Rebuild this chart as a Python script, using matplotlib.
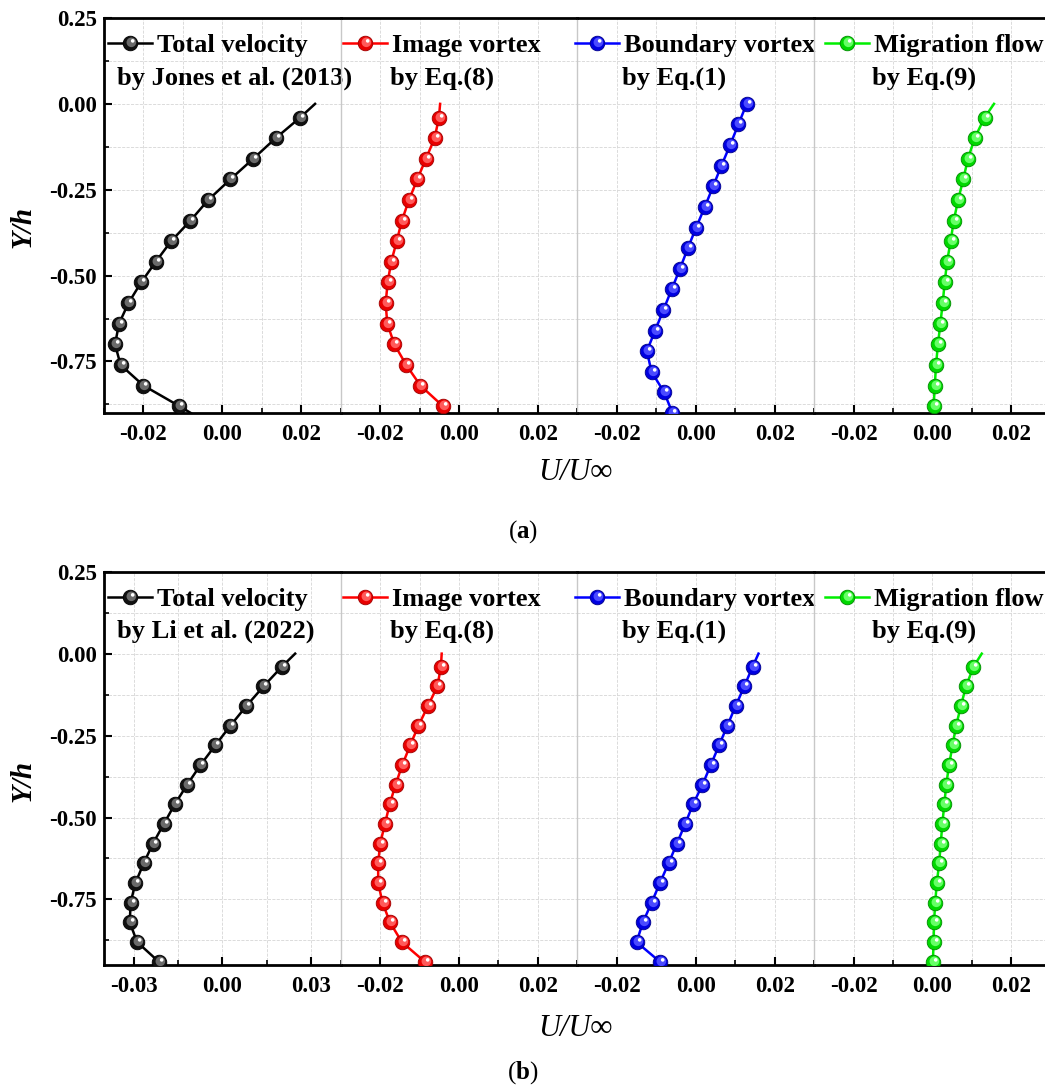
import numpy as np
import matplotlib
matplotlib.use('Agg')
import matplotlib.pyplot as plt
from matplotlib.path import Path
from matplotlib.ticker import MultipleLocator, FormatStrFormatter
from matplotlib.legend_handler import HandlerTuple

plt.rcParams['font.family'] = ['Liberation Serif', 'DejaVu Serif']
plt.rcParams['font.weight'] = 'bold'
plt.rcParams['axes.unicode_minus'] = False
plt.rcParams['mathtext.fontset'] = 'custom'
plt.rcParams['mathtext.rm'] = 'Liberation Serif'
plt.rcParams['mathtext.bf'] = 'Liberation Serif:bold'

# ---- panel (a): Jones et al. (2013) ----
ya = [-0.04, -0.10, -0.16, -0.22, -0.28, -0.34, -0.40, -0.46, -0.52, -0.58, -0.64, -0.70, -0.76, -0.82, -0.88]
ya_bound = [0.00, -0.06, -0.12, -0.18, -0.24, -0.30, -0.36, -0.42, -0.48, -0.54, -0.60, -0.66, -0.72, -0.78, -0.84, -0.90]
total_a = [0.0197, 0.0135, 0.0078, 0.0020, -0.0036, -0.0081, -0.0130, -0.0169, -0.0206, -0.0238,
           -0.0262, -0.0272, -0.0258, -0.0200, -0.0109]
image_a = [-0.0051, -0.0062, -0.0084, -0.0106, -0.0127, -0.0145, -0.0158, -0.0172, -0.0181, -0.0186,
           -0.0182, -0.0164, -0.0134, -0.0098, -0.0041]
bound_a = [0.0129, 0.0108, 0.0087, 0.0065, 0.0044, 0.0023, 0.0001, -0.0020, -0.0040, -0.0061,
           -0.0082, -0.0103, -0.0124, -0.0112, -0.0080, -0.0059]
migr_a = [0.0132, 0.0107, 0.0090, 0.0078, 0.0065, 0.0054, 0.0046, 0.0037, 0.0031, 0.0026,
          0.0020, 0.0014, 0.0009, 0.0006, 0.0003]
# line values at Y=0 and at the lower frame (None = line stops at the last ball)
total_a_ends = (0.0235, -0.0080)
image_a_ends = (-0.0048, -0.0027)
bound_a_ends = (None, None)
migr_a_ends = (0.0156, 0.0001)

# ---- panel (b): Li et al. (2022) ----
yb = [-0.04, -0.10, -0.16, -0.22, -0.28, -0.34, -0.40, -0.46, -0.52, -0.58, -0.64, -0.70, -0.76, -0.82, -0.88, -0.94]
total_b = [0.0201, 0.0139, 0.0081, 0.0027, -0.0024, -0.0074, -0.0119, -0.0161, -0.0198, -0.0235,
           -0.0266, -0.0294, -0.0310, -0.0313, -0.0288, -0.0215]
image_b = [-0.0046, -0.0055, -0.0079, -0.0103, -0.0124, -0.0144, -0.0161, -0.0176, -0.0188, -0.0200,
           -0.0205, -0.0205, -0.0194, -0.0175, -0.0145, -0.0087]
bound_b = [0.0144, 0.0123, 0.0101, 0.0080, 0.0059, 0.0038, 0.0017, -0.0007, -0.0027, -0.0048,
           -0.0069, -0.0091, -0.0112, -0.0134, -0.0150, -0.0091]
migr_b = [0.0104, 0.0085, 0.0072, 0.0060, 0.0051, 0.0042, 0.0035, 0.0030, 0.0025, 0.0021,
          0.0017, 0.0011, 0.0007, 0.0004, 0.0003, 0.0001]
total_b_ends = (0.0246, -0.0203)
image_b_ends = (-0.0044, -0.0077)
bound_b_ends = (0.0159, -0.0081)
migr_b_ends = (0.0125, 0.0001)

first_lines = ['Total velocity', 'Image vortex', 'Boundary vortex', 'Migration flow']
second_a = ['by Jones et al. (2013)', 'by Eq.(8)', 'by Eq.(1)', 'by Eq.(9)']
second_b = ['by Li et al. (2022)', 'by Eq.(8)', 'by Eq.(1)', 'by Eq.(9)']

# colours: line, ball, ball edge, ball shine
styles = [('#000000', '#111111', '#000000', '#6a6a6a'),
          ('#ff0000', '#e80000', '#a00000', '#ff5a5a'),
          ('#0000ff', '#0000e0', '#00008a', '#4a4aff'),
          ('#00ee00', '#00d800', '#008a00', '#66ff66')]

W, H = 1045, 1089
X0, SW = 104, 236.7
FS = 19


def spot(cx, cy, r):
    # circle marker off-centre; two moveto corners keep the normalisation to the full ball
    c = Path.circle((cx, cy), r)
    v = np.concatenate([c.vertices, [[-1, -1], [1, 1]]])
    k = np.concatenate([c.codes, [Path.MOVETO, Path.MOVETO]])
    return Path(v, k)


SHADE = spot(0.12, 0.16, 0.66)
SHINE = spot(0.30, 0.36, 0.25)


def draw_series(ax, y, x, ends, ylo, st):
    ly, lx = list(y), list(x)
    if ends[0] is not None:
        ly = [0.0] + ly
        lx = [ends[0]] + lx
    if ends[1] is not None:
        ly = ly + [ylo]
        lx = lx + [ends[1]]
    ln, = ax.plot(lx, ly, color=st[0], lw=1.8, zorder=2)
    ms = 10.5
    b1, = ax.plot(x, y, ls='none', marker='o', ms=ms, mfc=st[1], mec=st[2], mew=0.6, zorder=3)
    b2, = ax.plot(x, y, ls='none', marker=SHADE, ms=ms, mfc=st[3], mec='none', zorder=4)
    b3, = ax.plot(x, y, ls='none', marker=SHINE, ms=ms, mfc='white', mec='none', zorder=5)
    return (ln, b1, b2, b3)


def draw_panel(top_px, bot_px, ylo, xlims, majors, series, seconds, xlab_px, cap_px, cap):
    h_ax = (bot_px - top_px) / H
    handle_x = [0.017, 0.010, -0.010, 0.046]
    text2_x = [0.055, 0.208, 0.189, 0.245]
    for i in range(4):
        ax = fig.add_axes([(X0 + i * SW) / W, 1 - bot_px / H, SW / W, h_ax])
        ax.set_facecolor('none')
        y, x, ends = series[i]
        handle = draw_series(ax, y, x, ends, ylo, styles[i])
        ax.set_xlim(-xlims[i], xlims[i])
        ax.set_ylim(ylo, 0.25)
        ax.xaxis.set_major_locator(MultipleLocator(majors[i]))
        ax.xaxis.set_minor_locator(MultipleLocator(majors[i] / 2))
        ax.xaxis.set_major_formatter(FormatStrFormatter('%.2f'))
        ax.yaxis.set_major_locator(MultipleLocator(0.25))
        ax.yaxis.set_minor_locator(MultipleLocator(0.125))
        ax.yaxis.set_major_formatter(FormatStrFormatter('%.2f'))
        ax.grid(which='both', ls='--', lw=0.6, color='#d6d6d6', zorder=0)
        ax.set_axisbelow(True)
        ax.tick_params(axis='x', which='major', direction='in', length=6, width=1.5,
                       labelsize=16.5, pad=8)
        ax.tick_params(axis='x', which='minor', direction='in', length=3.5, width=1.2)
        if i == 0:
            ax.tick_params(axis='y', which='major', direction='in', length=6, width=1.5,
                           labelsize=16.5, pad=5)
            ax.tick_params(axis='y', which='minor', direction='in', length=3.5, width=1.2)
            ax.spines['left'].set_linewidth(2)
        else:
            ax.tick_params(axis='y', which='both', left=False, labelleft=False)
            ax.spines['left'].set_color('#c8c8c8')
            ax.spines['left'].set_linewidth(1)
        ax.spines['right'].set_visible(False)
        ax.spines['top'].set_linewidth(2)
        ax.spines['bottom'].set_linewidth(2)
        ax.legend(handles=[handle], labels=[first_lines[i]],
                  handler_map={tuple: HandlerTuple(ndivide=1)},
                  loc='center left', bbox_to_anchor=(handle_x[i], 0.930),
                  borderpad=0, borderaxespad=0, handlelength=1.67, handletextpad=0.2,
                  frameon=False, prop={'size': FS, 'weight': 'bold'})
        ax.text(text2_x[i], 0.848, seconds[i], transform=ax.transAxes,
                ha='left', va='center', fontsize=FS, fontweight='bold')
    fig.text(575 / W, 1 - xlab_px / H, 'U/U\u221e', ha='center', va='center',
             fontsize=22, style='italic', fontweight='normal')
    fig.text(23 / W, 1 - (top_px + 209) / H, 'Y/h', ha='center', va='center',
             rotation=90, fontsize=21, style='italic', fontweight='bold')
    fig.text(523 / W, 1 - cap_px / H, cap, ha='center', va='center',
             fontsize=18, fontweight='normal')


fig = plt.figure(figsize=(W / 100, H / 100), dpi=100)

draw_panel(18, 413, -0.90, [0.03, 0.03, 0.03, 0.03], [0.02, 0.02, 0.02, 0.02],
           [(ya, total_a, total_a_ends), (ya, image_a, image_a_ends),
            (ya_bound, bound_a, bound_a_ends), (ya, migr_a, migr_a_ends)],
           second_a, 472, 532, r'($\mathbf{a}$)')

draw_panel(571.7, 965, -0.95, [0.04, 0.03, 0.03, 0.03], [0.03, 0.02, 0.02, 0.02],
           [(yb, total_b, total_b_ends), (yb, image_b, image_b_ends),
            (yb, bound_b, bound_b_ends), (yb, migr_b, migr_b_ends)],
           second_b, 1028, 1073, r'($\mathbf{b}$)')

fig.savefig('out.png', dpi=100)
